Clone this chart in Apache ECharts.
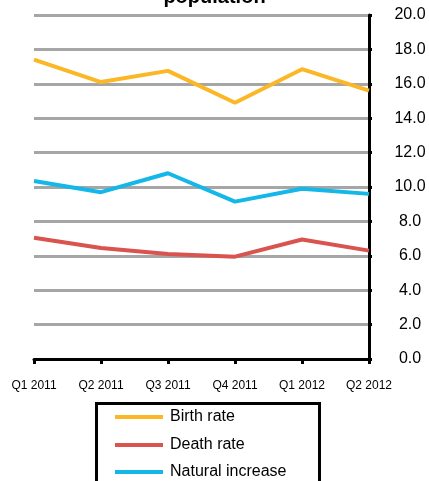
<!DOCTYPE html>
<html>
<head>
<meta charset="utf-8">
<script src="https://cdn.jsdelivr.net/npm/echarts@6/dist/echarts.min.js"></script>
<style>html,body{margin:0;padding:0;background:#fff}#c{width:429px;height:481px}</style>
</head>
<body>
<div id="c"></div>
<script>
const categories = ['Q1 2011', 'Q2 2011', 'Q3 2011', 'Q4 2011', 'Q1 2012', 'Q2 2012'];
const birthRate = [17.4, 16.1, 16.75, 14.9, 16.85, 15.6];
const deathRate = [7.05, 6.45, 6.1, 5.95, 6.95, 6.3];
const naturalIncrease = [10.35, 9.7, 10.8, 9.15, 9.9, 9.6];
const seriesNames = ['Birth rate', 'Death rate', 'Natural increase'];
const colors = ['#fbb726', '#d9534f', '#13b7e8'];
const titleText = 'population';

const chart = echarts.init(document.getElementById('c'), null, {renderer: 'canvas'});
const font = 'Liberation Sans, Arial, Helvetica, sans-serif';
const legendTops = [409, 437, 464];
chart.setOption({
  animation: false,
  backgroundColor: '#fff',
  title: {
    text: titleText,
    left: 'center',
    top: -18,
    textStyle: {fontFamily: font, fontSize: 20, fontWeight: 'bold', color: '#000'}
  },
  grid: {left: 34, right: 60, top: 15, bottom: 122, containLabel: false},
  graphic: [{
    type: 'rect',
    left: 94, top: 401,
    shape: {width: 223, height: 100},
    style: {fill: 'none', stroke: '#000', lineWidth: 3}
  }],
  legend: seriesNames.map((n, i) => ({
    orient: 'vertical',
    left: 115,
    top: legendTops[i],
    data: [{name: n, icon: 'rect'}],
    itemWidth: 48,
    itemHeight: 4,
    padding: 0,
    selectedMode: false,
    textStyle: {fontFamily: font, fontSize: 16, color: '#000', padding: [0, 0, 0, 2]}
  })),
  xAxis: {
    type: 'category',
    data: categories,
    boundaryGap: false,
    axisLine: {lineStyle: {color: '#000', width: 3}},
    axisTick: {show: true, alignWithLabel: true, length: 5, lineStyle: {color: '#000', width: 3}},
    axisLabel: {fontFamily: font, fontSize: 12, color: '#000', margin: 21, interval: 0},
    splitLine: {show: false}
  },
  yAxis: {
    type: 'value',
    position: 'right',
    min: 0,
    max: 20,
    interval: 2,
    axisLine: {show: true, lineStyle: {color: '#000', width: 3}},
    axisTick: {show: true, length: 3, inside: false, lineStyle: {color: '#000', width: 3}},
    axisLabel: {fontFamily: font, fontSize: 16, color: '#000', margin: 41, align: 'center',
      formatter: v => v.toFixed(1)},
    splitLine: {show: true, lineStyle: {color: '#a6a6a6', width: 3}}
  },
  series: [
    {name: seriesNames[0], type: 'line', data: birthRate, showSymbol: false, symbol: 'none',
      lineStyle: {color: colors[0], width: 4}, itemStyle: {color: colors[0]}},
    {name: seriesNames[1], type: 'line', data: deathRate, showSymbol: false, symbol: 'none',
      lineStyle: {color: colors[1], width: 4}, itemStyle: {color: colors[1]}},
    {name: seriesNames[2], type: 'line', data: naturalIncrease, showSymbol: false, symbol: 'none',
      lineStyle: {color: colors[2], width: 4}, itemStyle: {color: colors[2]}}
  ]
});
</script>
</body>
</html>
